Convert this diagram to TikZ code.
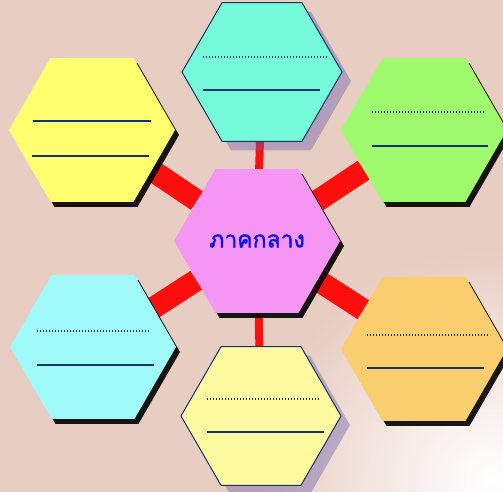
\documentclass[tikz,border=0pt]{standalone}
\usepackage{fontspec}
\usepackage{tikz}
\usetikzlibrary{shapes.geometric,shadows,backgrounds}
\newfontfamily\thaifont[Script=Thai, AutoFakeBold=1.5]{Loma}
\definecolor{bgpink}{RGB}{232,205,195}
\definecolor{barred}{RGB}{255,14,14}
\definecolor{hexyellow}{RGB}{255,255,112}
\definecolor{hexteal}{RGB}{117,250,218}
\definecolor{hexgreen}{RGB}{160,250,110}
\definecolor{hexcyan}{RGB}{160,250,250}
\definecolor{hexcream}{RGB}{255,250,160}
\definecolor{hexorange}{RGB}{250,205,110}
\definecolor{hexpink}{RGB}{245,150,245}
\definecolor{hexline}{RGB}{20,50,100}
\definecolor{inkblue}{RGB}{20,50,110}
\definecolor{thaiblue}{RGB}{15,15,235}
\definecolor{shadowblue}{RGB}{100,90,170}

\begin{document}
\begin{tikzpicture}[x=1pt,y=-1pt,
    hexbox/.style={regular polygon, regular polygon sides=6, minimum size=166pt, inner sep=0pt},
    bevel/.style={hexbox, drop shadow={shadow xshift=4pt, shadow yshift=-5pt, fill=black, opacity=0.9}},
    framed/.style={hexbox, minimum size=160pt, draw=hexline, line width=1pt,
        drop shadow={shadow xshift=9pt, shadow yshift=-9pt, fill=shadowblue, opacity=0.4}},
    redbar/.style={draw=barred, line width=22pt},
    thinbar/.style={draw=barred, line width=8pt},
    fullline/.style={draw=inkblue, line width=1.3pt},
    dotline/.style={draw=inkblue, line width=1.3pt, dash pattern=on 1.3pt off 1.7pt}]

    \useasboundingbox (0,0) rectangle (503,492);

    % outer hexagons
    \node[bevel, fill=hexyellow] (westup) at (92,130) {};
    \node[bevel, fill=hexgreen] (eastup) at (424,130) {};
    \node[framed, fill=hexteal] (north) at (262,72) {};
    \node[bevel, fill=hexcyan] (westdown) at (93,347) {};
    \node[bevel, fill=hexorange] (eastdown) at (424,349) {};
    \node[framed, fill=hexcream] (south) at (261,416) {};

    % centre
    \node[bevel, fill=hexpink, text=thaiblue, font=\thaifont\bfseries\fontsize{23}{26}\selectfont] (hub) at (257,241) {ภาคกลาง};

    % writing lines
    \draw[fullline] ([shift={(-59,-9)}]westup.center) -- ++(118,0);
    \draw[fullline] ([shift={(-60,26)}]westup.center) -- ++(117,0);

    \draw[dotline] ([shift={(-59,-15)}]north.center) -- ++(124,0);
    \draw[fullline] ([shift={(-59,18)}]north.center) -- ++(117,0);

    \draw[dotline] ([shift={(-52,-18)}]eastup.center) -- ++(112,0);
    \draw[fullline] ([shift={(-52,16)}]eastup.center) -- ++(116,0);

    \draw[dotline] ([shift={(-56,-16)}]westdown.center) -- ++(113,0);
    \draw[fullline] ([shift={(-56,18)}]westdown.center) -- ++(117,0);

    \draw[dotline] ([shift={(-57,-14)}]eastdown.center) -- ++(123,0);
    \draw[fullline] ([shift={(-57,19)}]eastdown.center) -- ++(117,0);

    \draw[dotline] ([shift={(-54,-17)}]south.center) -- ++(113,0);
    \draw[fullline] ([shift={(-54,16)}]south.center) -- ++(117,0);

    \begin{scope}[on background layer]
        \fill[bgpink] (0,0) rectangle (503,492);
        \begin{scope}
            \clip (0,0) rectangle (503,492);
            \shade[inner color=white, outer color=bgpink] (490,480) circle (230);
        \end{scope}
        % connectors
        \draw[redbar] (hub) -- (westup);
        \draw[redbar] (hub) -- (eastup);
        \draw[redbar] (hub) -- (westdown);
        \draw[redbar] (hub) -- (eastdown);
        \draw[thinbar] (hub) -- (north);
        \draw[thinbar] (hub) -- (south);
    \end{scope}
\end{tikzpicture}
\end{document}
